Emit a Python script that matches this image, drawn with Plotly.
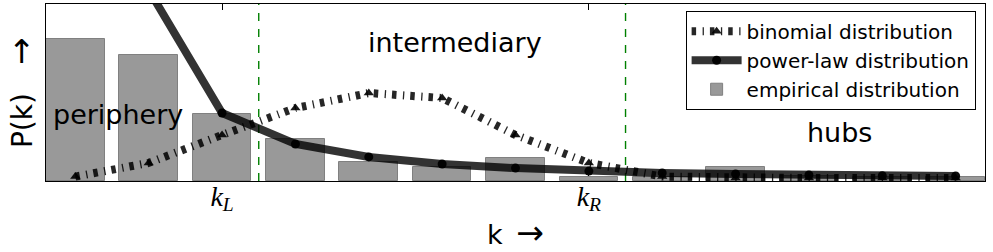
import plotly.graph_objects as go

# ---- data (y in arbitrary units) ----
k = [1, 2, 3, 4, 5, 6, 7, 8, 9, 10, 11, 12, 13]
empirical = [0.80, 0.71, 0.38, 0.24, 0.11, 0.08, 0.13, 0.02, 0.02, 0.08, 0.03, 0.02, 0.02]
power_law = [4.90, 1.08, 0.384, 0.209, 0.136, 0.096, 0.073, 0.056, 0.045, 0.040, 0.034, 0.030, 0.028]
binomial = [0.025, 0.102, 0.26, 0.412, 0.497, 0.469, 0.26, 0.102, 0.025, 0.017, 0.017, 0.017, 0.017]
k_L = 3
k_R = 8
tick_vals = [k_L, k_R]
tick_text = ["<i>k<sub>L</sub></i>", "<i>k<sub>R</sub></i>"]
region_bounds = [k_L + 0.5, k_R + 0.5]
regions = ["periphery", "intermediary", "hubs"]
region_x = [1.58, 6.17, 11.42]
region_y = [0.375, 0.78, 0.273]

ARROW = "<span style=\"font-size:33px;font-family:'DejaVu Sans ExtraLight','DejaVu Sans'\">\u2192</span>"

fig = go.Figure()

fig.add_trace(go.Scatter(
    x=k, y=binomial, mode="lines+markers", name="binomial distribution",
    line=dict(color="rgba(0,0,0,0.85)", width=8, dash="4.5px,6.5px,1.3px,6px"),
    marker=dict(symbol="triangle-up", size=9, color="rgba(0,0,0,0.9)"),
))
fig.add_trace(go.Scatter(
    x=k, y=power_law, mode="lines+markers", name="power-law distribution",
    line=dict(color="rgba(0,0,0,0.8)", width=8),
    marker=dict(symbol="circle", size=9, color="rgba(0,0,0,0.95)"),
))
fig.add_trace(go.Bar(
    x=k, y=empirical, name="empirical distribution", width=0.8,
    marker=dict(color="#999999", line=dict(color="#808080", width=1)),
))

for b in region_bounds:
    fig.add_vline(x=b, line=dict(color="green", width=1.4, dash="8px,8px"), layer="below")

for name, rx, ry in zip(regions, region_x, region_y):
    fig.add_annotation(x=rx, y=ry, xref="x", yref="y", text=name, showarrow=False,
                       font=dict(size=27, color="black", family="DejaVu Sans"),
                       xanchor="center", yanchor="middle")

# axis titles
fig.add_annotation(x=0.5, y=-0.29, xref="paper", yref="paper", text="k\u2002" + ARROW,
                   showarrow=False, font=dict(size=27, color="black", family="DejaVu Sans"),
                   xanchor="center", yanchor="middle")
fig.add_annotation(x=-0.0271, y=0.5, xref="paper", yref="paper", text="P(k)\u2002\u2002" + ARROW,
                   showarrow=False, textangle=-90,
                   font=dict(size=28, color="black", family="DejaVu Sans"),
                   xanchor="center", yanchor="middle")

fig.update_layout(
    width=993, height=252,
    margin=dict(l=46, r=8, t=4, b=71),
    paper_bgcolor="white", plot_bgcolor="white",
    font=dict(family="DejaVu Sans", color="black"),
    showlegend=True,
    bargap=0,
    legend=dict(x=0.990, y=0.962, xanchor="right", yanchor="top",
                bgcolor="white", bordercolor="black", borderwidth=1,
                font=dict(size=20, color="black", family="DejaVu Sans"),
                itemwidth=50, traceorder="normal"),
    xaxis=dict(range=[0.6, 13.4], tickvals=tick_vals, ticktext=tick_text,
               ticks="inside", ticklen=6, tickwidth=1, tickcolor="black",
               mirror="ticks", showline=True, linecolor="black", linewidth=1,
               showgrid=False, zeroline=False, layer="below traces",
               ticklabelstandoff=-10,
               tickfont=dict(size=28, family="Liberation Serif", color="black")),
    yaxis=dict(range=[0, 1.0], showticklabels=False, ticks="",
               showline=True, mirror=True, linecolor="black", linewidth=1,
               showgrid=False, zeroline=False),
)

fig.write_html("out.html", config={"displayModeBar": False},
               post_script="document.body.style.margin='0';")
